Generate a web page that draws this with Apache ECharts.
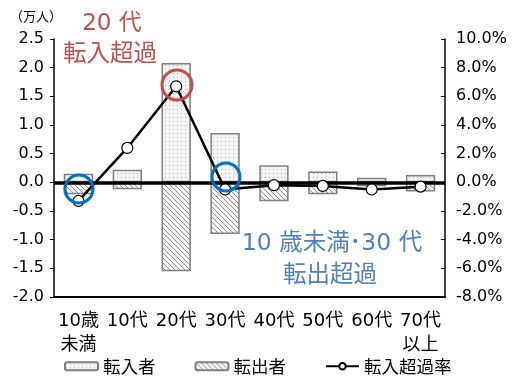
<!DOCTYPE html>
<html>
<head>
<meta charset="utf-8">
<script src="https://cdn.jsdelivr.net/npm/echarts@6/dist/echarts.min.js"></script>
<style>
  html, body { margin: 0; padding: 0; background: #fff; }
</style>
</head>
<body>
<div id="main" style="width: 518px;height: 383px;"></div>
<script>
const categories = ['10歳\n未満', '10代', '20代', '30代', '40代', '50代', '60代', '70代\n以上']
const inflow = [0.15, 0.22, 2.08, 0.86, 0.30, 0.19, 0.08, 0.13]
const outflow = [-0.21, -0.12, -1.55, -0.90, -0.33, -0.21, -0.07, -0.16]
const netRate = [-1.3, 2.4, 6.7, -0.5, -0.2, -0.25, -0.5, -0.3]

// 数字は幅広の DejaVu、漢字は Noto CJK
const FONT = '"DejaVu Sans", "Noto Sans CJK JP", sans-serif'
const CJK = '"Noto Sans CJK JP", sans-serif'

// 点々のパターン
const makeDots = () => {
    const c = document.createElement('canvas')
    c.width = 4
    c.height = 4
    const ctx = c.getContext('2d')
    ctx.fillStyle = '#f4f4f4'
    ctx.fillRect(0, 0, 4, 4)
    ctx.fillStyle = '#b0b0b0'
    ctx.fillRect(1, 1, 1, 1)
    return c
}
// 斜線のパターン
const makeHatch = () => {
    const c = document.createElement('canvas')
    c.width = 5
    c.height = 5
    const ctx = c.getContext('2d')
    ctx.fillStyle = '#f6f6f6'
    ctx.fillRect(0, 0, 5, 5)
    ctx.strokeStyle = '#8f8f8f'
    ctx.lineWidth = 1
    ctx.beginPath()
    ctx.moveTo(-1, -1); ctx.lineTo(6, 6)
    ctx.moveTo(-1, 4); ctx.lineTo(1, 6)
    ctx.moveTo(4, -1); ctx.lineTo(6, 1)
    ctx.stroke()
    return c
}

const myChart = echarts.init(document.getElementById('main'))
const option = {
    backgroundColor: '#fff',
    animation: false,
    textStyle: { fontFamily: FONT },
    grid: { left: 54, right: 73, top: 39, bottom: 86 },
    legend: {
        left: 59,
        bottom: 3,
        itemWidth: 33,
        itemHeight: 8,
        itemGap: 39,
        textStyle: { color: '#000', fontSize: 17.5, fontFamily: CJK },
        data: ['転入者', '転出者', '転入超過率'],
    },
    xAxis: {
        type: 'category',
        data: categories,
        axisLine: { onZero: false, lineStyle: { color: '#000', width: 2 } },
        axisTick: { show: false },
        axisLabel: {
            interval: 0,
            color: '#000',
            fontSize: 18,
            lineHeight: 24,
            margin: 12,
            fontFamily: FONT,
        },
    },
    yAxis: [{
        type: 'value',
        min: -2,
        max: 2.5,
        interval: 0.5,
        axisLine: { show: true, lineStyle: { color: '#000', width: 1.5 } },
        axisTick: { show: true, length: 4, lineStyle: { color: '#000' } },
        splitLine: { show: false },
        axisLabel: {
            color: '#000',
            fontSize: 16,
            margin: 10,
            fontFamily: FONT,
            formatter: (v) => v.toFixed(1),
        },
    }, {
        type: 'value',
        min: -8,
        max: 10,
        interval: 2,
        position: 'right',
        axisLine: { show: true, lineStyle: { color: '#000', width: 1.5 } },
        axisTick: { show: true, inside: true, length: 4, lineStyle: { color: '#000' } },
        splitLine: { show: false },
        axisLabel: {
            color: '#000',
            fontSize: 16,
            margin: 11,
            fontFamily: FONT,
            formatter: (v) => v.toFixed(1) + '%',
        },
    }],
    series: [
        {
            name: '転入者',
            type: 'bar',
            stack: 'flow',
            barWidth: '60%',
            itemStyle: {
                color: { image: makeDots(), repeat: 'repeat' },
                borderColor: '#7f7f7f',
                borderWidth: 1.5,
            },
            data: inflow,
            markLine: {
                silent: true,
                symbol: 'none',
                label: { show: false },
                lineStyle: { color: '#000', width: 3.5, type: 'solid' },
                data: [{ yAxis: 0 }],
            },
        },
        {
            name: '転出者',
            type: 'bar',
            stack: 'flow',
            barWidth: '60%',
            itemStyle: {
                color: { image: makeHatch(), repeat: 'repeat' },
                borderColor: '#7f7f7f',
                borderWidth: 1.5,
            },
            data: outflow,
        },
        {
            name: '転入超過率',
            type: 'line',
            yAxisIndex: 1,
            symbol: 'circle',
            symbolSize: 11,
            z: 5,
            lineStyle: { color: '#000', width: 2.5 },
            itemStyle: { color: '#fff', borderColor: '#000', borderWidth: 1.2 },
            data: netRate,
        },
    ],
    graphic: [
        { type: 'text', x: 36, y: 16, style: { text: '（万人）', font: '13px ' + CJK, fill: '#000', align: 'center', verticalAlign: 'middle' } },
        { type: 'text', x: 112, y: 24, style: { text: '20 代', font: '23px ' + FONT, fill: '#c0504d', align: 'center', verticalAlign: 'middle' } },
        { type: 'text', x: 110, y: 52, style: { text: '転入超過', font: '23.5px ' + CJK, fill: '#c0504d', align: 'center', verticalAlign: 'middle' } },
        { type: 'text', x: 332, y: 244, style: { text: '10 歳未満･30 代', font: '23.5px ' + FONT, fill: '#4f81bd', align: 'center', verticalAlign: 'middle' } },
        { type: 'text', x: 330, y: 273, style: { text: '転出超過', font: '23.5px ' + CJK, fill: '#4f81bd', align: 'center', verticalAlign: 'middle' } },
        { type: 'circle', z: 10, shape: { cx: 177, cy: 85, r: 15 }, style: { fill: 'none', stroke: '#c0504d', lineWidth: 3 } },
        { type: 'circle', z: 10, shape: { cx: 79, cy: 189, r: 14 }, style: { fill: 'none', stroke: '#0070c0', lineWidth: 3 } },
        { type: 'circle', z: 10, shape: { cx: 226, cy: 177, r: 14 }, style: { fill: 'none', stroke: '#0070c0', lineWidth: 3 } },
    ],
}
option && myChart.setOption(option)
</script>
</body>
</html>
